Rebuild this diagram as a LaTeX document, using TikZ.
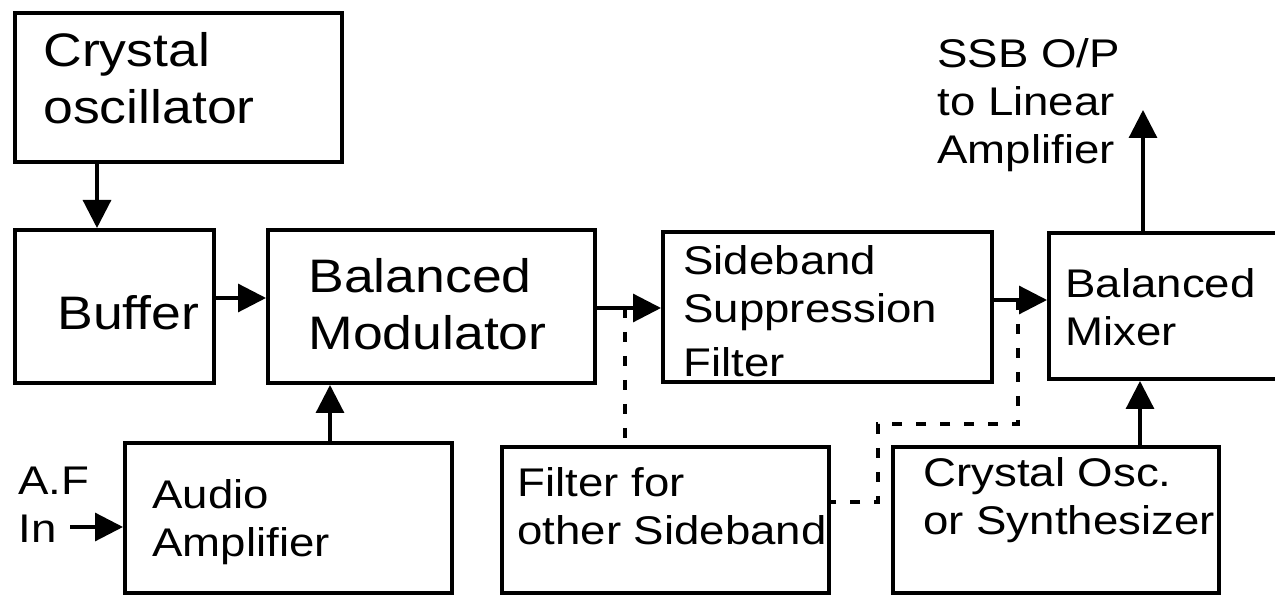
\documentclass[tikz,border=0pt]{standalone}
\usepackage{fontspec}
\setmainfont{Liberation Sans}[FakeStretch=1.14]
\usetikzlibrary{arrows.meta}

\newcommand{\bigtxt}{\fontsize{23.5}{28.5}\selectfont}
\newcommand{\smalltxt}{\fontsize{20}{24}\selectfont}

\begin{document}
\begin{tikzpicture}[x=0.5pt, y=-0.5pt, >={Triangle[length=14pt,width=14pt]}]

    % ==========================================
    % STYLES
    % ==========================================
    \tikzset{
      blk/.style={draw, line width=2pt, inner sep=0pt},
      txt/.style={align=left, inner sep=0pt, anchor=north west},
      sig/.style={->, line width=1.6pt},
      tap/.style={line width=1.6pt, dash pattern=on 5pt off 7pt}
    }

    % ==========================================
    % VARIABLE DEFINITIONS (connector positions)
    % ==========================================
    \def\xOscBuf{97}     % Crystal oscillator -> Buffer
    \def\yBufMod{298}    % Buffer -> Balanced Modulator
    \def\yModSsf{308}    % Balanced Modulator -> Sideband filter
    \def\xAudMod{330}    % Audio Amplifier -> Balanced Modulator
    \def\ySsfMix{300}    % Sideband filter -> Balanced Mixer
    \def\xOscMix{1140}   % Crystal Osc. -> Balanced Mixer
    % ==========================================

    % Frame of the picture
    \useasboundingbox (0,0) rectangle (1275,597);
    \clip (0,0) rectangle (1275,597);

    % Blocks
    \node[blk, minimum width=163.5pt, minimum height=74.5pt] (cosc)  at (178.5,87.5) {};
    \node[blk, minimum width=99.5pt,  minimum height=76.5pt] (buff)  at (114.5,306.5) {};
    \node[blk, minimum width=163.5pt, minimum height=76.5pt] (bmod)  at (431.5,306.5) {};
    \node[blk, minimum width=163.5pt, minimum height=75pt]   (audio) at (288.5,518) {};
    \node[blk, minimum width=164.5pt, minimum height=75pt]   (ssf)   at (827.5,307) {};
    \node[blk, minimum width=163.5pt, minimum height=73pt]   (filt)  at (665.5,520) {};
    \node[blk, minimum width=125.5pt, minimum height=73pt]   (mix)   at (1174.5,306) {};
    \node[blk, minimum width=163pt,   minimum height=73pt]   (xosc)  at (1056,520) {};

    % Block texts
    \node[txt, font=\bigtxt]   (cosct)  at (43,32)    {Crystal\\oscillator};
    \node[txt, font=\bigtxt]   (bufft)  at (57,295)   {Buffer};
    \node[txt, font=\bigtxt]   (bmodt)  at (308,258)  {Balanced\\Modulator};
    \node[txt, font=\smalltxt] (audiot) at (152,479)  {Audio\\Amplifier};
    \node[txt, font=\smalltxt] (ssft)   at (683,245)  {Sideband\\Suppression\\[3pt]Filter};
    \node[txt, font=\smalltxt] (filtt)  at (517,467)  {Filter for\\other Sideband};
    \node[txt, font=\smalltxt] (mixt)   at (1065,268) {Balanced\\Mixer};
    \node[txt, font=\smalltxt] (xosct)  at (923,457)  {Crystal Osc.\\or Synthesizer};

    % Input and output labels
    \node[txt, font=\smalltxt] (afint)  at (18,467)   {A.F\\In};
    \node[txt, font=\smalltxt] (ssbt)   at (937,38)   {SSB O/P\\to Linear\\Amplifier};

    % Signal path
    \draw[sig] (cosc.south -| \xOscBuf,0) -- (buff.north -| \xOscBuf,0);
    \draw[sig] (buff.east |- 0,\yBufMod) -- (bmod.west |- 0,\yBufMod);
    \draw[sig] (bmod.east |- 0,\yModSsf) -- (ssf.west |- 0,\yModSsf);
    \draw[sig] (audio.north -| \xAudMod,0) -- (bmod.south -| \xAudMod,0);
    \draw[sig] (ssf.east |- 0,\ySsfMix) -- (mix.west |- 0,\ySsfMix);
    \draw[sig] (xosc.north -| \xOscMix,0) -- (mix.south -| \xOscMix,0);

    % A.F input and SSB output
    \coordinate (afin) at (70,527);
    \draw[sig] (afin) -- (audio.west |- afin);
    \coordinate (ssbout) at (1143,110);
    \draw[sig] (mix.north -| ssbout) -- (ssbout);

    % Dotted links for the alternative sideband
    \coordinate (tapa) at (625,\yModSsf);
    \draw[tap] (tapa) -- (filt.north -| tapa);
    \coordinate (tapb) at (1018,\ySsfMix);
    \draw[tap] (tapb) -- ++(0,124) -| (878,502) -- (filt.east |- 878,502);

\end{tikzpicture}
\end{document}
